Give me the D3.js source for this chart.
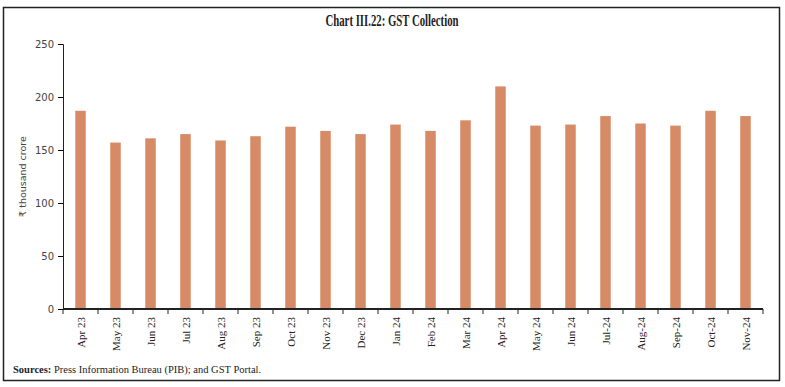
<!DOCTYPE html>
<html>
<head>
<meta charset="utf-8">
<script src="https://cdn.jsdelivr.net/npm/d3@7"></script>
<style>
  body { margin: 0; background: #fff; }
  text { fill: #222; }
</style>
</head>
<body>
<div id="chart"></div>
<script>
// GST collection, monthly, in thousand crore
var months = ["Apr 23", "May 23", "Jun 23", "Jul 23", "Aug 23", "Sep 23", "Oct 23", "Nov 23", "Dec 23", "Jan 24",
  "Feb 24", "Mar 24", "Apr 24", "May 24", "Jun 24", "Jul-24", "Aug-24", "Sep-24", "Oct-24", "Nov-24"];
var gst = [187, 157, 161, 165, 159, 163, 172, 168, 165, 174,
  168, 178, 210, 173, 174, 182, 175, 173, 187, 182];
var yTicks = [0, 50, 100, 150, 200, 250];

(function() {
  var W = 785, H = 387;
  var m = { left: 63, right: 20, top: 44, bottom: 78 };

  var svg = d3.select("#chart").append("svg")
    .attr("width", W)
    .attr("height", H);

  // outer frame
  svg.append("rect")
    .attr("x", 3.5).attr("y", 7.5)
    .attr("width", 776).attr("height", 373)
    .attr("fill", "none")
    .attr("stroke", "#222")
    .attr("stroke-width", 1.5);

  svg.append("text")
    .attr("x", 392).attr("y", 26)
    .attr("text-anchor", "middle")
    .style("font-family", "'Liberation Serif', serif")
    .style("font-size", "17px")
    .style("font-weight", "bold")
    .attr("textLength", 133)
    .attr("lengthAdjust", "spacingAndGlyphs")
    .text("Chart III.22: GST Collection");

  var x = d3.scaleBand()
    .domain(months)
    .range([m.left, W - m.right - 2])
    .paddingInner(0.7)
    .paddingOuter(0.35);

  var y = d3.scaleLinear()
    .domain([0, 250])
    .range([H - m.bottom, m.top]);

  svg.selectAll("rect.bar")
    .data(gst)
    .enter()
    .append("rect")
    .attr("class", "bar")
    .attr("x", function(d, i) { return x(months[i]); })
    .attr("width", x.bandwidth())
    .attr("y", function(d) { return y(d); })
    .attr("height", function(d) { return y(0) - y(d); })
    .attr("fill", "#d68a66");

  // y axis
  var gy = svg.append("g")
    .attr("transform", "translate(" + m.left + ",0)")
    .call(d3.axisLeft(y).tickValues(yTicks).tickSize(5).tickPadding(4));
  gy.selectAll("text")
    .style("font-family", "'DejaVu Sans', sans-serif")
    .style("font-size", "10px")
    .style("fill", "#444");
  gy.select(".domain").attr("stroke", "#222");

  // x axis: ticks on band boundaries
  var bounds = d3.range(months.length + 1).map(function(i) {
    return m.left + i * (W - m.right - 2 - m.left) / months.length;
  });
  var gx = svg.append("g")
    .attr("transform", "translate(0," + y(0) + ")");
  gx.append("line")
    .attr("x1", m.left).attr("x2", W - m.right - 2)
    .attr("stroke", "#222").attr("stroke-width", 2);
  gx.selectAll("line.tk")
    .data(bounds)
    .enter().append("line")
    .attr("class", "tk")
    .attr("x1", function(d) { return d; })
    .attr("x2", function(d) { return d; })
    .attr("y1", 0).attr("y2", 5)
    .attr("stroke", "#222");
  gx.selectAll("text")
    .data(months)
    .enter().append("text")
    .attr("transform", function(d) {
      return "translate(" + (x(d) + x.bandwidth() / 2 + 4) + ",8) rotate(-90)";
    })
    .attr("text-anchor", "end")
    .style("font-family", "'Liberation Serif', serif")
    .style("font-size", "11px")
    .text(function(d) { return d; });

  svg.append("text")
    .attr("transform", "translate(26," + ((m.top + y(0)) / 2) + ") rotate(-90)")
    .attr("text-anchor", "middle")
    .style("font-family", "'DejaVu Sans', sans-serif")
    .style("font-size", "9.5px")
    .style("fill", "#444")
    .text("₹ thousand crore");

  var src = svg.append("text")
    .attr("x", 13).attr("y", 373)
    .style("font-family", "'Liberation Serif', serif")
    .style("font-size", "10.5px");
  src.append("tspan").style("font-weight", "bold").text("Sources:");
  src.append("tspan").text(" Press Information Bureau (PIB); and GST Portal.");
})();
</script>
</body>
</html>
